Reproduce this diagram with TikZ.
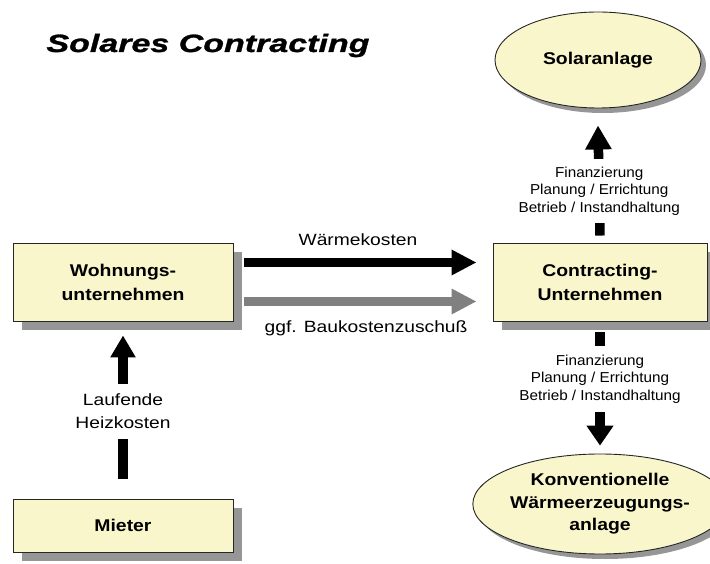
\documentclass[tikz,border=0pt]{standalone}
\usepackage{fontspec}
\setmainfont{Liberation Sans}
\newfontfamily\titlef[FakeStretch=1.36,FakeBold=1.2]{Liberation Sans}
\newfontfamily\boxf[FakeStretch=1.14]{Liberation Sans}
\newfontfamily\labf[FakeStretch=1.18]{Liberation Sans}
\newfontfamily\smallf[FakeStretch=1.06]{Liberation Sans}
\usetikzlibrary{shapes.geometric,shadows,arrows.meta}
\definecolor{boxfill}{RGB}{250,246,204}
\definecolor{shadowgray}{RGB}{150,150,150}
\definecolor{arrowgray}{RGB}{128,128,128}
\tikzset{
  box/.style={rectangle,draw=black!85,line width=0.9pt,fill=boxfill,inner sep=0pt,
    align=center,font=\boxf\bfseries\fontsize{17}{24}\selectfont,
    drop shadow={shadow xshift=9pt,shadow yshift=-9pt,fill=shadowgray,opacity=1}},
  oval/.style={ellipse,draw=black!85,line width=0.9pt,fill=boxfill,inner sep=0pt,
    align=center,font=\boxf\bfseries\fontsize{17}{22.5}\selectfont,
    drop shadow={shadow xshift=5pt,shadow yshift=-5pt,fill=shadowgray,opacity=1}},
  bigarrow/.style={line width=9.5pt,-{Triangle[length=25pt,width=24pt]}},
  lab/.style={font=\labf\fontsize{16.3}{23}\selectfont,align=center,inner sep=0pt},
  smalllab/.style={font=\smallf\fontsize{14.4}{17.5}\selectfont,align=center,inner sep=0pt},
  cover/.style={fill=white,inner xsep=2pt,inner ysep=0pt}
}
\begin{document}
\begin{tikzpicture}[x=1pt,y=1pt]
\useasboundingbox (0,0) rectangle (710,563);
% title
\node[anchor=base,inner sep=0pt,font=\titlef\bfseries\itshape\fontsize{25}{28}\selectfont] (title) at (208,511) {Solares Contracting};
% nodes
\node[box,minimum width=220pt,minimum height=78pt] (w) at (123,281) {Wohnungs-\\unternehmen};
\node[box,minimum width=220pt,minimum height=53pt] (m) at (123,37.5) {Mieter};
\node[box,minimum width=214pt,minimum height=78pt] (c) at (600,281) {Contracting-\\Unternehmen};
\node[oval,minimum width=206pt,minimum height=96pt] (s) at (598,503) {Solaranlage};
\node[oval,minimum width=210pt,minimum height=100pt] (k) at (600,59) {Konventionelle\\Wärmeerzeugungs-\\anlage};
% horizontal arrows
\draw[bigarrow,black] ([xshift=11pt,yshift=19.5pt]w.east) -- node[lab,pos=0.489,anchor=base,yshift=16.5pt] (wk) {Wärmekosten} ([xshift=-16pt,yshift=19.5pt]c.west);
\draw[bigarrow,arrowgray] ([xshift=11pt,yshift=-19.5pt]w.east) -- node[lab,pos=0.524,anchor=base,yshift=-31.5pt,text=black] (bk) {ggf. Baukostenzuschuß} ([xshift=-16pt,yshift=-19.5pt]c.west);
% vertical arrows
\draw[bigarrow,-{Triangle[length=24pt,width=25pt]}] ([yshift=7pt]c.north) -- node[smalllab,cover,pos=0.405,minimum height=64pt] (l1) {Finanzierung\\Planung / Errichtung\\Betrieb / Instandhaltung} ([yshift=-17pt]s.south);
\draw[bigarrow,-{Triangle[length=20pt,width=26pt]}] ([yshift=-11pt]c.south) -- node[smalllab,cover,pos=0.41,minimum height=66pt] (l2) {Finanzierung\\Planung / Errichtung\\Betrieb / Instandhaltung} ([yshift=8pt]k.north);
\draw[bigarrow,-{Triangle[length=22pt,width=24pt]}] ([yshift=20pt]m.north) -- node[lab,cover,pos=0.469,minimum height=55pt] (l3) {Laufende\\Heizkosten} ([yshift=-14pt]w.south);
\end{tikzpicture}
\end{document}
